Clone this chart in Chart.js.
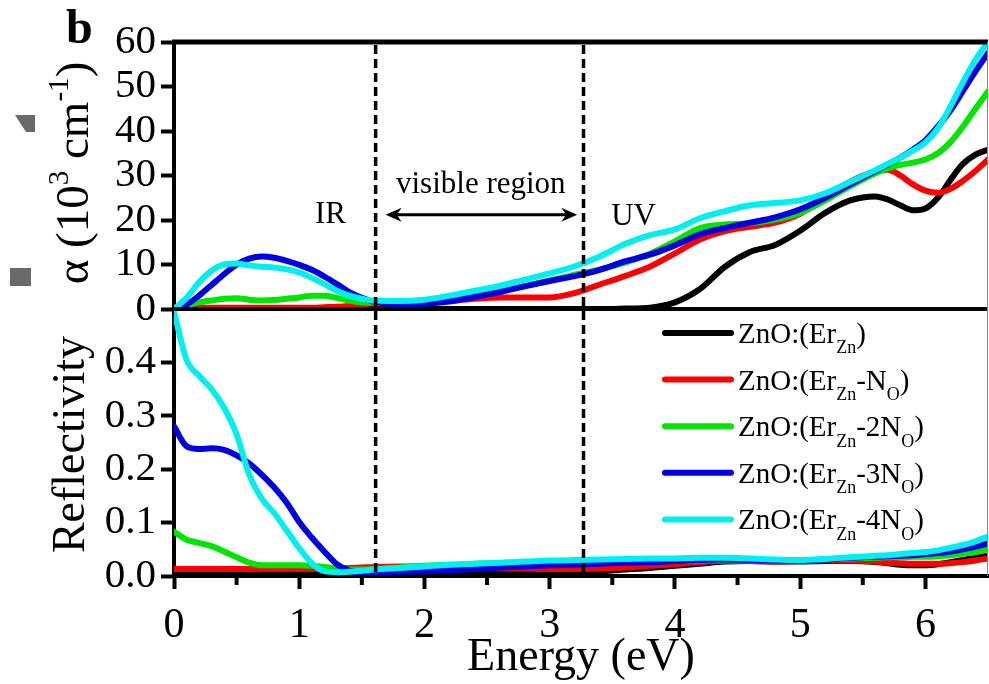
<!DOCTYPE html>
<html>
<head>
<meta charset="utf-8">
<title>ZnO:Er absorption and reflectivity</title>
<script src="https://cdn.jsdelivr.net/npm/chart.js@4.4.1/dist/chart.umd.min.js"></script>
<style>
  html, body { margin: 0; padding: 0; background: #fff; }
  canvas { display: block; }
</style>
</head>
<body>
<canvas id="optChart" width="989" height="684"></canvas>
<script>
// Photon energy grid (eV)
const energy = [0, 0.1, 0.2, 0.3, 0.4, 0.5, 0.6, 0.7, 0.8, 0.9, 1.0, 1.1, 1.2, 1.3, 1.4, 1.5, 1.6,
    1.8, 2.0, 2.2, 2.4, 2.6, 2.8, 3.0, 3.2, 3.4, 3.6, 3.8, 4.0, 4.2, 4.4, 4.6, 4.8, 5.0, 5.2, 5.4, 5.6,
    5.7, 5.8, 5.9, 6.0, 6.1, 6.2, 6.3, 6.4, 6.5];

// Absorption coefficient (10^3 cm^-1)
const alphaEr = [0, 0, 0, 0, 0, 0, 0, 0, 0, 0, 0, 0, 0, 0, 0, 0, 0,
    0, 0, 0, 0, 0, 0, 0, 0, 0, 0.1, 0.3, 1.5, 4.5, 9.5, 12.8, 14.4, 17.6, 21.6, 24.4, 25.3,
    24.6, 23.3, 22.2, 22.6, 25.0, 29.0, 32.6, 34.7, 35.8];
const alphaEr1N = [0, 0.2, 0.3, 0.3, 0.3, 0.3, 0.3, 0.3, 0.3, 0.3, 0.3, 0.3, 0.4, 0.5, 0.7, 1.0, 1.3,
    1.3, 1.5, 1.8, 2.3, 2.6, 2.6, 2.6, 3.6, 5.5, 7.4, 9.5, 12.5, 15.6, 17.5, 18.5, 19.4, 21.4, 25.0, 28.6, 30.9,
    31.3, 30.0, 28.0, 26.6, 26.1, 27.0, 28.8, 31.0, 33.6];
const alphaEr2N = [0, 0.8, 1.5, 1.9, 2.3, 2.4, 2.1, 1.9, 2.0, 2.3, 2.6, 3.0, 3.0, 2.5, 1.9, 1.5, 1.4,
    1.3, 1.7, 2.3, 3.0, 4.0, 5.2, 6.4, 7.7, 8.9, 10.4, 12.4, 15.2, 18.2, 19.0, 19.3, 20.1, 21.6, 24.4, 27.6, 30.5,
    31.6, 32.4, 32.9, 33.6, 35.0, 37.5, 41.0, 45.0, 48.9];
const alphaEr3N = [0, 1.0, 3.0, 5.4, 7.8, 10.0, 11.3, 11.8, 11.5, 10.8, 9.9, 8.8, 7.3, 5.6, 3.8, 2.5, 1.6,
    1.1, 1.2, 1.7, 2.7, 3.8, 5.1, 6.3, 7.4, 8.8, 10.7, 12.2, 14.3, 16.8, 18.2, 19.4, 20.6, 22.4, 25.0, 28.0, 31.0,
    32.5, 34.0, 35.8, 37.9, 41.0, 44.6, 49.0, 53.4, 57.5];
const alphaEr4N = [0, 2.5, 6.0, 8.6, 10.0, 10.2, 9.8, 9.5, 9.3, 8.9, 8.2, 7.0, 5.6, 4.1, 3.0, 2.3, 1.9,
    1.8, 2.1, 3.0, 4.1, 5.2, 6.6, 8.0, 9.6, 11.8, 14.6, 16.6, 17.9, 20.4, 22.0, 23.3, 23.8, 24.4, 26.0, 28.6, 31.2,
    32.6, 34.0, 35.6, 37.4, 40.6, 45.5, 51.0, 56.0, 60.0];

// Reflectivity
const reflEr = [0.006, 0.006, 0.006, 0.006, 0.006, 0.006, 0.006, 0.006, 0.006, 0.006, 0.006, 0.006, 0.006, 0.006, 0.006, 0.006, 0.006,
    0.006, 0.006, 0.006, 0.006, 0.006, 0.006, 0.007, 0.008, 0.009, 0.012, 0.015, 0.019, 0.023, 0.027, 0.028, 0.027, 0.027, 0.028, 0.028, 0.026,
    0.024, 0.021, 0.020, 0.020, 0.022, 0.026, 0.030, 0.034, 0.038];
const reflEr1N = [0.013, 0.013, 0.013, 0.013, 0.013, 0.013, 0.013, 0.013, 0.013, 0.013, 0.013, 0.013, 0.013, 0.014, 0.015, 0.016, 0.017,
    0.018, 0.018, 0.017, 0.016, 0.015, 0.014, 0.013, 0.013, 0.014, 0.016, 0.019, 0.022, 0.026, 0.028, 0.028, 0.027, 0.028, 0.030, 0.029, 0.027,
    0.025, 0.024, 0.023, 0.023, 0.023, 0.024, 0.026, 0.029, 0.033];
const reflEr2N = [0.083, 0.068, 0.062, 0.056, 0.046, 0.035, 0.025, 0.020, 0.020, 0.020, 0.020, 0.019, 0.017, 0.014, 0.012, 0.012, 0.013,
    0.016, 0.019, 0.021, 0.023, 0.024, 0.025, 0.026, 0.027, 0.027, 0.028, 0.028, 0.028, 0.029, 0.030, 0.030, 0.029, 0.029, 0.031, 0.033, 0.034,
    0.035, 0.035, 0.036, 0.036, 0.037, 0.039, 0.042, 0.045, 0.050];
const reflEr3N = [0.280, 0.243, 0.238, 0.239, 0.236, 0.226, 0.211, 0.190, 0.166, 0.137, 0.101, 0.072, 0.046, 0.022, 0.010, 0.007, 0.007,
    0.008, 0.009, 0.011, 0.013, 0.016, 0.018, 0.020, 0.021, 0.023, 0.025, 0.026, 0.028, 0.030, 0.031, 0.030, 0.029, 0.029, 0.031, 0.034, 0.036,
    0.037, 0.038, 0.039, 0.041, 0.043, 0.046, 0.050, 0.055, 0.061];
const reflEr4N = [0.495, 0.405, 0.375, 0.350, 0.315, 0.265, 0.190, 0.145, 0.118, 0.085, 0.052, 0.024, 0.009, 0.007, 0.008, 0.010, 0.012,
    0.015, 0.018, 0.021, 0.023, 0.025, 0.027, 0.029, 0.030, 0.031, 0.032, 0.033, 0.033, 0.034, 0.034, 0.033, 0.031, 0.030, 0.032, 0.035, 0.038,
    0.039, 0.041, 0.043, 0.045, 0.048, 0.053, 0.058, 0.065, 0.074];

// Axis ticks
const energyTicks = [0, 1, 2, 3, 4, 5, 6];
const energyMinorTicks = [0.5, 1.5, 2.5, 3.5, 4.5, 5.5];
const alphaTicks = [0, 10, 20, 30, 40, 50, 60];
const reflTicks = [0.0, 0.1, 0.2, 0.3, 0.4];

// IR / visible / UV boundaries (eV)
const regionEdges = [1.61, 3.27];

const seriesLabels = ['ZnO:(Er_{Zn})', 'ZnO:(Er_{Zn}-N_{O})', 'ZnO:(Er_{Zn}-2N_{O})',
    'ZnO:(Er_{Zn}-3N_{O})', 'ZnO:(Er_{Zn}-4N_{O})'];
const seriesColors = ['#000000', '#ff0000', '#00e600', '#0000e0', '#00f0f0'];
const alphaSeries = [alphaEr, alphaEr1N, alphaEr2N, alphaEr3N, alphaEr4N];
const reflSeries = [reflEr, reflEr1N, reflEr2N, reflEr3N, reflEr4N];

const SERIF = '"Liberation Serif", "Times New Roman", serif';
Chart.defaults.font.family = SERIF;
Chart.defaults.color = '#000';

const toPoints = vals => energy.map((e, i) => ({ x: e, y: vals[i] }));

const datasets = [];
alphaSeries.forEach((vals, i) => {
    datasets.push({
        data: toPoints(vals),
        yAxisID: 'yA',
        borderColor: seriesColors[i],
        borderWidth: 6,
        order: 10 - i
    });
});
reflSeries.forEach((vals, i) => {
    datasets.push({
        data: toPoints(vals),
        yAxisID: 'yR',
        borderColor: seriesColors[i],
        borderWidth: 6,
        order: 10 - i
    });
});

// draws text with _{sub} and ^{sup} parts, starting at x (or centred on it)
function drawRich(ctx, text, x, y, size, centred) {
    const parts = [];
    const re = /([_^])\{([^}]*)\}/g;
    let last = 0, m;
    while ((m = re.exec(text))) {
        if (m.index > last) parts.push({ t: text.slice(last, m.index), k: '' });
        parts.push({ t: m[2], k: m[1] });
        last = re.lastIndex;
    }
    if (last < text.length) parts.push({ t: text.slice(last), k: '' });

    let total = 0;
    parts.forEach(p => {
        p.size = p.k ? size * 0.62 : size;
        ctx.font = p.size + 'px ' + SERIF;
        p.w = ctx.measureText(p.t).width;
        total += p.w;
    });
    let cx = centred ? x - total / 2 : x;
    parts.forEach(p => {
        ctx.font = p.size + 'px ' + SERIF;
        const dy = p.k === '_' ? size * 0.36 : p.k === '^' ? -size * 0.42 : 0;
        ctx.fillText(p.t, cx, y + dy);
        cx += p.w;
    });
}

function arrowHead(ctx, x, y, dir) {
    ctx.beginPath();
    ctx.moveTo(x, y);
    ctx.lineTo(x - dir * 16, y - 7);
    ctx.lineTo(x - dir * 11, y);
    ctx.lineTo(x - dir * 16, y + 7);
    ctx.closePath();
    ctx.fill();
}

const decorPlugin = {
    id: 'decor',
    afterDatasetsDraw(chart) {
        const { ctx, chartArea: a, scales: { x, yA, yR } } = chart;
        ctx.save();
        ctx.strokeStyle = '#000';
        ctx.fillStyle = '#000';

        // frame: top edge and the panel separator
        ctx.lineWidth = 5;
        ctx.beginPath();
        ctx.moveTo(a.left - 2, yA.top);
        ctx.lineTo(a.right, yA.top);
        ctx.stroke();
        ctx.lineWidth = 4;
        ctx.beginPath();
        ctx.moveTo(a.left - 2, yR.top);
        ctx.lineTo(a.right, yR.top);
        ctx.stroke();
        ctx.strokeStyle = '#888';
        ctx.lineWidth = 1;
        ctx.beginPath();
        ctx.moveTo(a.right - 0.5, yA.top);
        ctx.lineTo(a.right - 0.5, a.bottom);
        ctx.stroke();

        // minor energy ticks
        ctx.strokeStyle = '#000';
        ctx.lineWidth = 4;
        energyMinorTicks.forEach(v => {
            const px = x.getPixelForValue(v);
            ctx.beginPath();
            ctx.moveTo(px, a.bottom);
            ctx.lineTo(px, a.bottom + 9);
            ctx.stroke();
        });

        // dashed region boundaries
        ctx.lineWidth = 3.5;
        ctx.setLineDash([9, 5]);
        regionEdges.forEach(v => {
            const px = x.getPixelForValue(v);
            ctx.beginPath();
            ctx.moveTo(px, yA.top + 3);
            ctx.lineTo(px, a.bottom - 3);
            ctx.stroke();
        });
        ctx.setLineDash([]);

        // region labels and the double arrow
        ctx.font = '31px ' + SERIF;
        ctx.textAlign = 'center';
        ctx.textBaseline = 'alphabetic';
        ctx.fillText('IR', x.getPixelForValue(1.25), yA.getPixelForValue(19.3));
        ctx.fillText('UV', x.getPixelForValue(3.67), yA.getPixelForValue(18.9));
        ctx.fillText('visible region', x.getPixelForValue(2.45), yA.getPixelForValue(26));
        const ay = yA.getPixelForValue(21.2);
        const x1 = x.getPixelForValue(1.69), x2 = x.getPixelForValue(3.22);
        ctx.lineWidth = 3;
        ctx.beginPath();
        ctx.moveTo(x1 + 8, ay);
        ctx.lineTo(x2 - 8, ay);
        ctx.stroke();
        arrowHead(ctx, x1, ay, -1);
        arrowHead(ctx, x2, ay, 1);
        ctx.restore();
    },
    afterDraw(chart) {
        const { ctx, chartArea: a, scales: { yA, yR } } = chart;
        ctx.save();
        ctx.fillStyle = '#000';
        ctx.textAlign = 'left';
        ctx.textBaseline = 'alphabetic';

        // legend inside the reflectivity panel
        seriesLabels.forEach((label, i) => {
            const ly = 333 + i * 46.6;
            ctx.strokeStyle = seriesColors[i];
            ctx.lineWidth = 6;
            ctx.lineCap = 'round';
            ctx.beginPath();
            ctx.moveTo(665, ly);
            ctx.lineTo(731, ly);
            ctx.stroke();
            drawRich(ctx, label, 738, ly + 10, 29, false);
        });

        // axis titles
        ctx.save();
        ctx.translate(88, 173);
        ctx.rotate(-Math.PI / 2);
        drawRich(ctx, 'α (10^{3} cm^{-1})', 0, 0, 47, true);
        ctx.restore();
        ctx.save();
        ctx.translate(84, (yR.top + yR.bottom) / 2 + 2);
        ctx.rotate(-Math.PI / 2);
        drawRich(ctx, 'Reflectivity', 0, 0, 46, true);
        ctx.restore();
        drawRich(ctx, 'Energy (eV)', (a.left + a.right) / 2, 670, 46, true);

        // panel letter
        ctx.font = 'bold 48px ' + SERIF;
        ctx.fillText('b', 66, 43);

        // grey marks at the left margin
        ctx.fillStyle = '#696969';
        ctx.beginPath();
        ctx.moveTo(15, 115);
        ctx.lineTo(35, 115);
        ctx.lineTo(35, 132);
        ctx.lineTo(26, 132);
        ctx.closePath();
        ctx.fill();
        ctx.fillRect(10, 268, 21, 18);
        ctx.restore();
    }
};

const axisGrid = {
    drawOnChartArea: false,
    drawTicks: true,
    tickLength: 13,
    tickWidth: 4,
    tickColor: '#000'
};
const axisBorder = { display: true, width: 4, color: '#000' };

new Chart(document.getElementById('optChart'), {
    type: 'line',
    data: { datasets },
    options: {
        responsive: false,
        animation: false,
        layout: { padding: { top: 42, right: 1, left: 0, bottom: 0 } },
        elements: {
            point: { radius: 0 },
            line: { cubicInterpolationMode: 'monotone', borderCapStyle: 'round', borderJoinStyle: 'round' }
        },
        plugins: { legend: { display: false }, tooltip: { enabled: false } },
        scales: {
            x: {
                type: 'linear',
                min: 0,
                max: 6.5,
                grid: axisGrid,
                border: axisBorder,
                afterBuildTicks: s => { s.ticks = energyTicks.map(v => ({ value: v })); },
                afterFit: s => { s.height = 108; },
                ticks: { font: { size: 42 }, padding: 12, maxRotation: 0, autoSkip: false, callback: v => String(v) }
            },
            yA: {
                type: 'linear',
                position: 'left',
                stack: 'panels',
                stackWeight: 1,
                weight: 1,
                min: 0,
                max: 60,
                grid: axisGrid,
                border: axisBorder,
                afterBuildTicks: s => { s.ticks = alphaTicks.map(v => ({ value: v })); },
                afterFit: s => { s.width = 174; },
                ticks: { font: { size: 41 }, padding: 5, autoSkip: false, callback: v => String(v) }
            },
            yR: {
                type: 'linear',
                position: 'left',
                stack: 'panels',
                stackWeight: 1,
                weight: 0,
                min: 0,
                max: 0.5,
                grid: axisGrid,
                border: axisBorder,
                afterBuildTicks: s => { s.ticks = reflTicks.map(v => ({ value: v })); },
                afterFit: s => { s.width = 174; },
                ticks: { font: { size: 41 }, padding: 5, autoSkip: false, callback: v => v.toFixed(1) }
            }
        }
    },
    plugins: [decorPlugin]
});
</script>
</body>
</html>
